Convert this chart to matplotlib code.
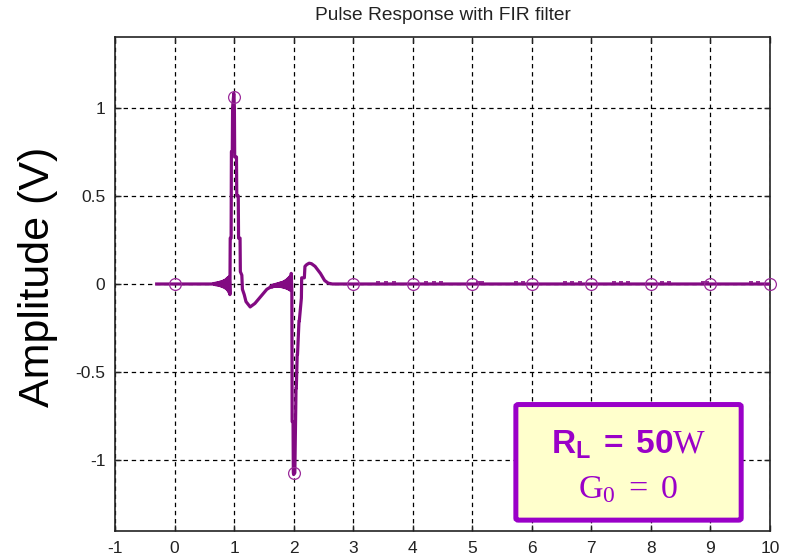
import matplotlib
matplotlib.use("Agg")
import matplotlib.pyplot as plt
from matplotlib.patches import FancyBboxPatch

plt.rcParams['font.family'] = ['Liberation Sans', 'DejaVu Sans']
plt.rcParams['mathtext.fontset'] = 'custom'
plt.rcParams['mathtext.bf'] = 'Liberation Sans:bold'
plt.rcParams['mathtext.rm'] = 'Liberation Serif'
plt.rcParams['mathtext.it'] = 'Liberation Serif:italic'

# ---- data ----
lead_t = [-0.3, 0.66]
lead_v = [0.0, 0.0]

ring1_t = [0.66, 0.67, 0.68, 0.69, 0.70, 0.71, 0.72, 0.73, 0.74, 0.75, 0.76, 0.77, 0.78, 0.79,
           0.80, 0.81, 0.82, 0.83, 0.84, 0.85, 0.86, 0.87, 0.88, 0.89, 0.90, 0.91, 0.92, 0.93]
ring1_v = [0.003, -0.003, 0.004, -0.004, 0.005, -0.005, 0.006, -0.006, 0.008, -0.008, 0.010, -0.010,
           0.012, -0.012, 0.014, -0.015, 0.017, -0.018, 0.020, -0.022, 0.024, -0.027, 0.030, -0.034,
           0.037, -0.045, 0.040, -0.060]

main1_t = [0.935, 0.95, 0.955, 0.97, 0.975, 0.995, 1.005, 1.01, 1.04, 1.045, 1.07, 1.075, 1.10,
           1.105, 1.13, 1.14, 1.17, 1.20, 1.27, 1.35, 1.45, 1.55]
main1_v = [0.26, 0.26, 0.75, 0.75, 1.00, 1.08, 1.00, 0.72, 0.72, 0.50, 0.50, 0.26, 0.26,
           0.07, 0.05, -0.03, -0.06, -0.10, -0.13, -0.11, -0.07, -0.03]

ring2_t = [1.60, 1.61, 1.62, 1.63, 1.64, 1.65, 1.66, 1.67, 1.68, 1.69, 1.70, 1.71, 1.72, 1.73,
           1.74, 1.75, 1.76, 1.77, 1.78, 1.79, 1.80, 1.81, 1.82, 1.83, 1.84, 1.85, 1.86, 1.87,
           1.88, 1.89, 1.90, 1.91, 1.92, 1.93, 1.94, 1.95, 1.96, 1.97]
ring2_v = [-0.020, -0.015, -0.012, -0.018, -0.008, -0.016, -0.006, -0.014, -0.004, -0.013, -0.002,
           -0.012, 0.000, -0.012, 0.002, -0.013, 0.004, -0.014, 0.006, -0.015, 0.008, -0.016, 0.010,
           -0.018, 0.014, -0.020, 0.018, -0.022, 0.022, -0.025, 0.028, -0.028, 0.034, -0.032, 0.042,
           -0.036, 0.060, -0.040]

main2_t = [1.975, 1.99, 1.995, 2.0, 2.02, 2.04, 2.045, 2.06, 2.065, 2.09, 2.095, 2.13, 2.135,
           2.18, 2.19, 2.22, 2.26, 2.30, 2.36, 2.45, 2.52, 2.58, 2.65]
main2_v = [-0.78, -0.78, -1.07, -1.08, -1.07, -0.59, -0.59, -0.40, -0.40, -0.21, -0.21, -0.08, 0.035,
           0.035, 0.10, 0.11, 0.118, 0.115, 0.10, 0.06, 0.02, 0.005, 0.0]

tail_t = [10.0]
tail_v = [0.0]

# tiny ripples sitting just above the zero line
ripple_t = [3.42, 3.55, 3.68, 4.22, 4.35, 4.48, 5.10, 5.17, 5.74, 5.86, 6.55, 6.68, 6.81,
            7.38, 7.50, 7.62, 8.18, 8.30, 8.88, 8.95, 9.68, 9.80]
ripple_v = [0.009] * len(ripple_t)

sample_t = [0, 1, 2, 3, 4, 5, 6, 7, 8, 9, 10]
sample_v = [0.0, 1.06, -1.07, 0.0, 0.0, 0.0, 0.0, 0.0, 0.0, 0.0, 0.0]

x_ticks = [-1, 0, 1, 2, 3, 4, 5, 6, 7, 8, 9, 10]
y_ticks = [-1, -0.5, 0, 0.5, 1]
y_tick_labels = ['-1', '-0.5', '0', '0.5', '1']

title_text = "Pulse Response with FIR filter"
ylabel_text = "Amplitude (V)"

trace_t = lead_t + ring1_t + main1_t + ring2_t + main2_t + tail_t
trace_v = lead_v + ring1_v + main1_v + ring2_v + main2_v + tail_v

# ---- figure ----
fig = plt.figure(figsize=(7.9, 5.6), dpi=100)
ax = fig.add_axes([115/790, 29/560, 655/790, 494/560])

purple = '#820a82'
ax.plot(trace_t, trace_v, color=purple, lw=2.3, solid_joinstyle='round', zorder=3)
ax.plot(ripple_t, ripple_v, linestyle='none', marker='_', markersize=3.2,
        markeredgewidth=1.3, color='#8a1a8a', zorder=3)
ax.plot(sample_t, sample_v, linestyle='none', marker='o', markersize=8.5,
        markerfacecolor='none', markeredgecolor='#9a2a9a', markeredgewidth=0.9,
        clip_on=False, zorder=4)

ax.set_xlim(-1, 10)
ax.set_ylim(-1.4, 1.4)
ax.set_xticks(x_ticks)
ax.set_xticklabels([str(v) for v in x_ticks])
ax.set_yticks(y_ticks)
ax.set_yticklabels(y_tick_labels)

ax.grid(True, color='black', linestyle=(0, (3.5, 3.0)), linewidth=0.9)
ax.set_axisbelow(True)
ax.tick_params(direction='in', length=4, width=1, top=True, right=True,
               labelsize=12.5, pad=7, colors='#222222')
for s in ax.spines.values():
    s.set_linewidth(1.2)
    s.set_color('#222222')

ax.set_title(title_text, fontsize=13.8, pad=12, color='#222222')
fig.text(38/790, 1 - 277/560, ylabel_text, rotation=90, ha='center', va='center',
         fontsize=31, color='black')

# annotation box
box_col = '#9a00c8'
box = FancyBboxPatch((0.612, 0.022), 0.344, 0.234, boxstyle='round,pad=0,rounding_size=0.004',
                     transform=ax.transAxes, facecolor='#ffffcc', edgecolor=box_col,
                     linewidth=3.6, zorder=6, clip_on=False)
ax.add_patch(box)
ax.text(0.784, 0.175, r'$\mathbf{R_L\ =\ 50}\mathrm{W}$', transform=ax.transAxes,
        ha='center', va='center', fontsize=24, color=box_col, zorder=7)
ax.text(0.784, 0.083, r'$\mathrm{G_0\ =\ 0}$', transform=ax.transAxes,
        ha='center', va='center', fontsize=24.5, color=box_col, zorder=7)

fig.savefig('out.png', dpi=100)
